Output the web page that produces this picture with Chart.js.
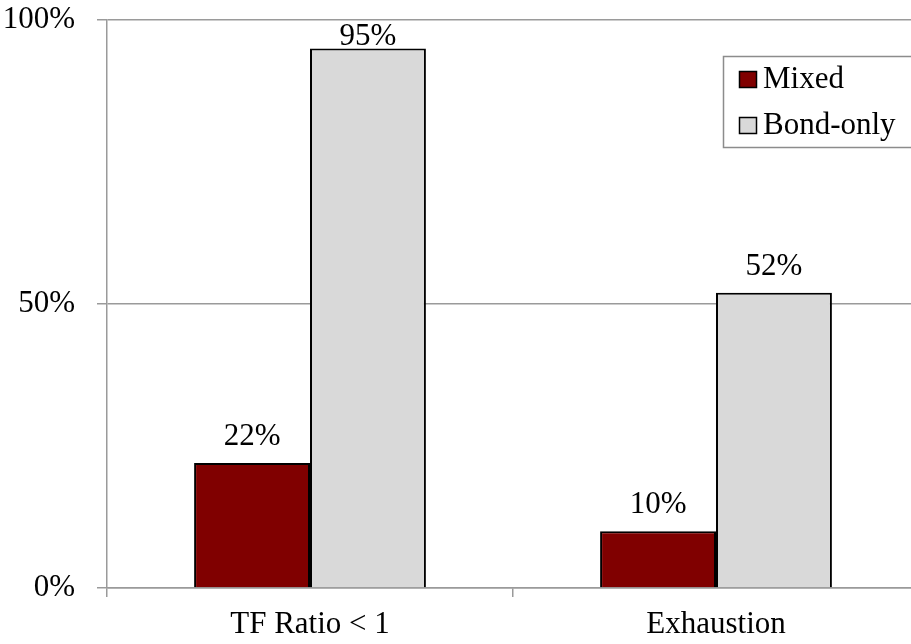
<!DOCTYPE html>
<html>
<head>
<meta charset="utf-8">
<script src="https://cdn.jsdelivr.net/npm/chart.js@4"></script>
<style>
  html, body { margin: 0; padding: 0; background: #fff; overflow: hidden; width: 911px; height: 644px; }
  canvas { display: block; }
</style>
</head>
<body>
<canvas id="c" width="930" height="644"></canvas>
<script>
const categories = ['TF Ratio < 1', 'Exhaustion'];
const seriesNames = ['Mixed', 'Bond-only'];
const mixedValues = [22, 10];
const bondOnlyValues = [95, 52];
const yTicks = [0, 50, 100];

const FONT = 'Liberation Serif, Times New Roman, serif';
const FSIZE = 31;
const GRID = '#9a9a9a';

const dataLabels = {
  id: 'dataLabels',
  afterDatasetsDraw(chart) {
    const ctx = chart.ctx;
    ctx.save();
    ctx.font = FSIZE + 'px ' + FONT;
    ctx.fillStyle = '#000';
    ctx.textAlign = 'center';
    ctx.textBaseline = 'alphabetic';
    chart.data.datasets.forEach((ds, di) => {
      chart.getDatasetMeta(di).data.forEach((bar, i) => {
        const y = Math.max(bar.y - 18, chart.chartArea.top + 25);
        ctx.fillText(ds.data[i] + '%', bar.x, y);
      });
    });
    ctx.restore();
  }
};

const boxLegend = {
  id: 'boxLegend',
  afterDraw(chart) {
    const ctx = chart.ctx;
    ctx.save();
    ctx.fillStyle = '#fff';
    ctx.fillRect(723, 56, 240, 91);
    ctx.strokeStyle = '#8c8c8c';
    ctx.lineWidth = 1.5;
    ctx.strokeRect(723.5, 56.5, 240, 91);
    ctx.font = FSIZE + 'px ' + FONT;
    ctx.textBaseline = 'alphabetic';
    ctx.textAlign = 'left';
    chart.data.datasets.forEach((ds, i) => {
      const top = 71 + i * 46;
      ctx.fillStyle = ds.backgroundColor;
      ctx.fillRect(739, top, 18, 17);
      ctx.strokeStyle = '#000';
      ctx.lineWidth = 1.5;
      ctx.strokeRect(739.5, top + 0.5, 17, 16);
      ctx.fillStyle = '#000';
      ctx.fillText(ds.label, 763, top + 17);
    });
    ctx.restore();
  }
};

new Chart(document.getElementById('c'), {
  type: 'bar',
  data: {
    labels: categories,
    datasets: [
      { label: seriesNames[0], data: mixedValues, backgroundColor: '#800000', borderColor: '#000', borderWidth: 2 },
      { label: seriesNames[1], data: bondOnlyValues, backgroundColor: '#d9d9d9', borderColor: '#000', borderWidth: 2 }
    ]
  },
  options: {
    responsive: false,
    animation: false,
    layout: { padding: { top: 20, right: 11, left: 0, bottom: 0 } },
    datasets: { bar: { barPercentage: 1, categoryPercentage: 0.571 } },
    plugins: { legend: { display: false }, tooltip: { enabled: false } },
    scales: {
      x: {
        grid: { display: true, drawOnChartArea: false, drawTicks: true, tickLength: 9, offset: true, color: GRID, lineWidth: 1.5 },
        border: { display: true, color: GRID, width: 1.5 },
        ticks: { color: '#000', font: { family: FONT, size: FSIZE, lineHeight: 1.2 }, padding: 9, maxRotation: 0 },
        afterFit(s) { s.height = 56; s.paddingLeft = 0; s.paddingRight = 0; }
      },
      y: {
        min: 0, max: 100,
        afterBuildTicks(s) { s.ticks = yTicks.map(v => ({ value: v })); },
        grid: { color: GRID, lineWidth: 1.5, tickLength: 10 },
        border: { display: true, color: GRID, width: 1.5 },
        ticks: { color: '#000', font: { family: FONT, size: FSIZE, lineHeight: 1.2 }, padding: 22, callback: v => v + '%' },
        afterFit(s) { s.width = 107; s.paddingTop = 0; s.paddingBottom = 0; }
      }
    }
  },
  plugins: [dataLabels, boxLegend]
});
</script>
</body>
</html>
